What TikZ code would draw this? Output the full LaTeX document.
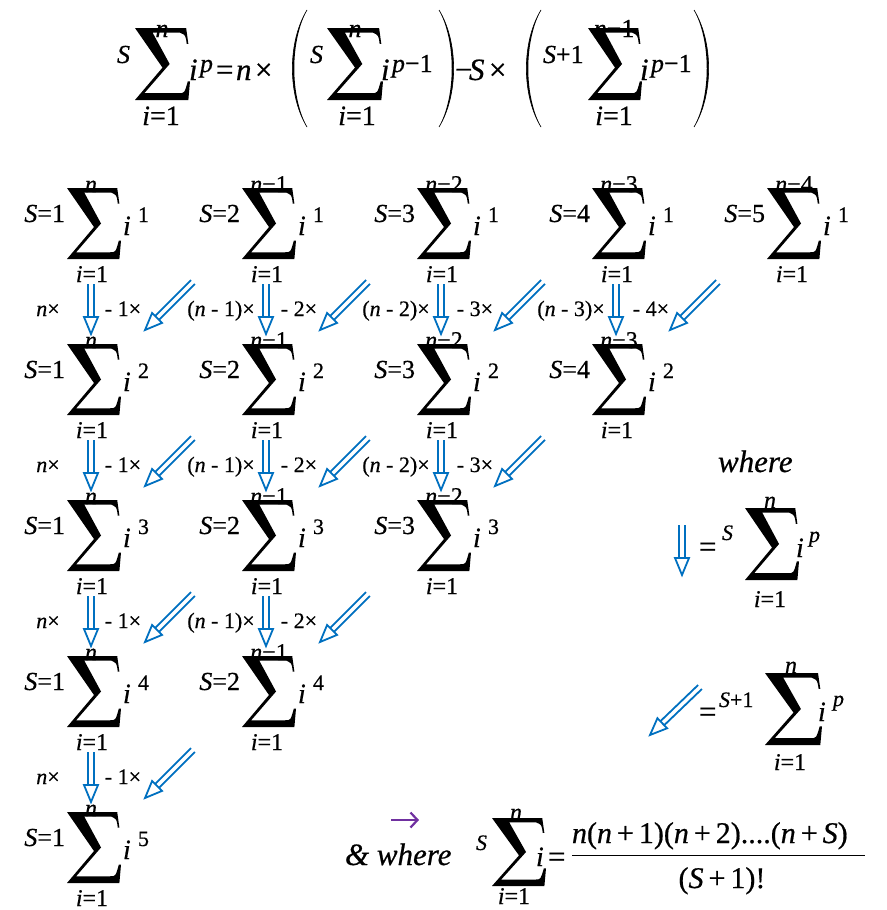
\documentclass[tikz,border=0pt]{standalone}
\usepackage{fontspec}
\setmainfont{Liberation Serif}[FakeBold=0.6]
\usetikzlibrary{calc,arrows.meta}
\definecolor{arrblue}{HTML}{0070C0}
\definecolor{arrpurple}{HTML}{7030A0}
\newcommand\fs[1]{\fontsize{#1}{#1}\selectfont}
\newcommand\bigsig[4]{%
  \fill[shift={(#1,#2)},xscale=#3,yscale=#4] (0,0) -- (0.93,0) -- (0.97,0.22) -- (0.94,0.22) .. controls (0.92,0.1) .. (0.82,0.065) -- (0.32,0.065) -- (0.63,0.5) -- (0.17,0.905) -- (0.8,0.905) .. controls (0.9,0.905) .. (0.96,0.74) -- (1.0,0.74) -- (0.97,1) -- (0,1) -- (0.5,0.55) -- cycle;}
\newcommand\dblarr[2]{%
  \path ($(#2)!17pt!(#1)$) coordinate (hb);
  \draw[arrline] ($(#1)!2.75pt!90:(#2)$) -- ($(hb)!2.75pt!90:(#2)$);
  \draw[arrline] ($(#1)!2.75pt!-90:(#2)$) -- ($(hb)!2.75pt!-90:(#2)$);
  \draw[arrline, line join=miter, fill=white] (#2) -- ($(hb)!7pt!90:(#2)$) -- ($(hb)!7pt!-90:(#2)$) -- cycle;}
\newcommand\tallparen[3]{% top-bottom x, outer control x, inner control x
  \fill (#1,10) .. controls (#2,42) and (#2,95) .. (#1,127) .. controls (#3,95) and (#3,42) .. (#1,10);
  \draw[line width=0.6pt] (#1,10) .. controls (#2,42) and (#2,95) .. (#1,127);}
\tikzset{
  txt/.style={inner sep=0pt, outer sep=0pt},
  cellf/.style={txt, font=\fs{26}},
  cellif/.style={txt, font=\fs{28}},
  eqf/.style={txt, font=\fs{31}},
  limf/.style={txt, font=\fs{24}},
  supf/.style={txt, font=\fs{22}},
  lblf/.style={txt, font=\fs{22}},
  bigf/.style={txt, font=\fs{31}},
  biglim/.style={txt, font=\fs{28}},
  bigsup/.style={txt, font=\fs{26}},
  arrline/.style={draw=arrblue, line width=1.8pt},
}
\begin{document}
\begin{tikzpicture}[x=1pt,y=-1pt]
\useasboundingbox (0,0) rectangle (886,910);
% ---------- top formula ----------
\node[bigsup,anchor=base west] (tS) at (117,63) {\textit{S}};
\bigsig{135}{28}{55}{72}
\node[bigsup,anchor=base] (tn) at (162,37) {\textit{n}};
\node[biglim,anchor=base] (tl) at (161,125) {\textit{i}=1};
\node[bigf,anchor=base west] (ti) at (189,80) {\textit{i}};
\node[bigsup,anchor=base west] (tp) at (200,72) {\textit{p}};
\node[eqf,anchor=base west] (teq) at (216,80) {=};
\node[bigf,anchor=base west] (tnn) at (236,80) {\textit{n}};
\node[bigf,anchor=base west] (tx1) at (255,80) {×};
\tallparen{307}{287.5}{290}
\node[bigsup,anchor=base west] (tS2) at (310,63) {\textit{S}};
\bigsig{327}{28}{56}{72}
\node[bigsup,anchor=base] (tn2) at (355,37) {\textit{n}};
\node[biglim,anchor=base] (tl2) at (357,125) {\textit{i}=1};
\node[bigf,anchor=base west] (ti2) at (381,80) {\textit{i}};
\node[bigsup,anchor=base west] (tp2) at (392,72) {\textit{p}−1};
\tallparen{439}{458.5}{456}
\node[bigf,anchor=base west] (tmin) at (455,80) {−};
\node[bigf,anchor=base west] (tS4) at (469,80) {\textit{S}};
\node[bigf,anchor=base west] (tx2) at (489,80) {×};
\tallparen{541}{521.5}{524}
\node[bigsup,anchor=base west] (tS3) at (543,63) {\textit{S}+1};
\bigsig{588}{28}{54}{72}
\node[bigsup,anchor=base] (tn3) at (614,37) {\textit{n}−1};
\node[biglim,anchor=base] (tl3) at (614,125) {\textit{i}=1};
\node[bigf,anchor=base west] (ti3) at (640,80) {\textit{i}};
\node[bigsup,anchor=base west] (tp3) at (651,72) {\textit{p}−1};
\tallparen{694}{713.5}{711}
% ---------- grid of sums ----------
\foreach \r in {1,...,5}{
  \pgfmathtruncatemacro\cmax{6-\r}
  \foreach \c in {1,...,\cmax}{
    \pgfmathsetmacro\sx{67+175*(\c-1)}
    \pgfmathsetmacro\sy{188+156*(\r-1)}
    \pgfmathtruncatemacro\k{\c-1}
    \bigsig{\sx}{\sy}{54}{71}
    \node[cellf,anchor=base east] (s\r\c) at (\sx-2,\sy+34) {\textit{S}=\c};
    \ifnum\c=1
      \node[limf,anchor=base] (u\r\c) at (\sx+24,\sy+4) {\textit{n}};
    \else
      \node[limf,anchor=base] (u\r\c) at (\sx+27,\sy+4) {\textit{n}−\k};
    \fi
    \node[cellif,anchor=base west] (i\r\c) at (\sx+56,\sy+47) {\textit{i}};
    \node[supf,anchor=base west] (e\r\c) at (\sx+71,\sy+34) {\r};
    \node[limf,anchor=base] (l\r\c) at (\sx+25,\sy+94) {\textit{i}=1};
  }
}
% ---------- arrows between rows ----------
\foreach \r in {1,...,4}{
  \pgfmathtruncatemacro\cmax{5-\r}
  \foreach \c in {1,...,\cmax}{
    \pgfmathsetmacro\sx{67+175*(\c-1)}
    \pgfmathsetmacro\sy{188+156*(\r-1)}
    \pgfmathtruncatemacro\k{\c-1}
    \coordinate (va\r\c) at (\sx+24,\sy+96);
    \coordinate (vb\r\c) at (\sx+24,\sy+146);
    \coordinate (da\r\c) at (\sx+126,\sy+94);
    \coordinate (db\r\c) at (\sx+78,\sy+142);
    \dblarr{va\r\c}{vb\r\c}
    \dblarr{da\r\c}{db\r\c}
    \ifnum\c=1
      \node[lblf,anchor=base] (ml\r\c) at (48,\sy+128) {\textit{n}×};
    \else
      \node[lblf,anchor=base] (ml\r\c) at (221+175*\c-350,\sy+128) {(\textit{n} - \k)×};
    \fi
    \node[lblf,anchor=base] (mr\r\c) at (123+176*\c-176,\sy+128) {- \c×};
  }
}
% ---------- legend ----------
\node[txt,font=\fs{31}\itshape,anchor=base west] (where1) at (718,472) {where};
\coordinate (lva) at (682,525);
\coordinate (lvb) at (682,575);
\dblarr{lva}{lvb}
\node[eqf,anchor=base west] (leq1) at (699,557) {=};
\node[supf,anchor=base west] (lS1) at (722,540) {\textit{S}};
\bigsig{745}{508}{54}{72}
\node[limf,anchor=base] (ln1) at (770,508) {\textit{n}};
\node[cellif,anchor=base west] (li1) at (796,557) {\textit{i}};
\node[supf,anchor=base west] (lp1) at (809,542) {\textit{p}};
\node[limf,anchor=base] (ll1) at (770,607) {\textit{i}=1};
\coordinate (lda) at (700,687);
\coordinate (ldb) at (650,735);
\dblarr{lda}{ldb}
\node[eqf,anchor=base west] (leq2) at (699,722) {=};
\node[supf,anchor=base west] (lS2) at (719,707) {\textit{S}+1};
\bigsig{765}{673}{57}{72}
\node[limf,anchor=base] (ln2) at (791,673) {\textit{n}};
\node[cellif,anchor=base west] (li2) at (818,721) {\textit{i}};
\node[supf,anchor=base west] (lp2) at (833,706) {\textit{p}};
\node[limf,anchor=base] (ll2) at (790,770) {\textit{i}=1};
% ---------- bottom formula ----------
\coordinate (pa) at (391,820);
\coordinate (pb) at (419,820);
\draw[arrpurple, line width=2.2pt, -{Straight Barb[length=7pt,width=15pt,line width=2.2pt]}] (pa) -- (pb);
\node[txt,font=\fs{31}\itshape,anchor=base west] (where2) at (345,865) {\& where};
\node[supf,anchor=base west] (bS) at (476,850) {\textit{S}};
\bigsig{492}{818}{54}{68}
\node[limf,anchor=base] (bn) at (516,820) {\textit{n}};
\node[cellif,anchor=base west] (bi) at (536,866) {\textit{i}};
\node[eqf,anchor=base west] (beq) at (548,867) {=};
\node[limf,anchor=base] (bl) at (514,904) {\textit{i}=1};
\node[txt,font=\fs{30},anchor=base west] (num) at (572,843) {\textit{n}(\textit{n}\,+\,1)(\textit{n}\,+\,2)....(\textit{n}\,+\,\textit{S})};
\draw[line width=1pt] (572,855) coordinate (fa) -- (865,855) coordinate (fb);
\node[txt,font=\fs{30},anchor=base] (den) at (722,888) {(\textit{S}\,+\,1)!};
\end{tikzpicture}
\end{document}
